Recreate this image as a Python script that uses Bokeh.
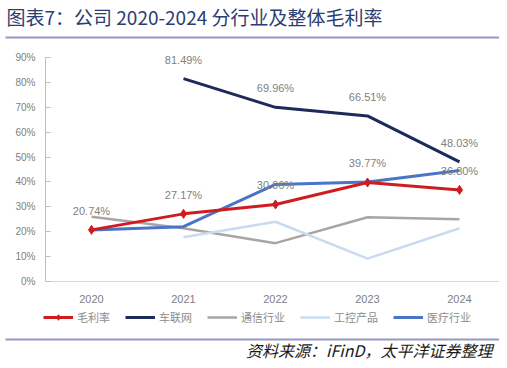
from bokeh.plotting import figure
from bokeh.layouts import column
from bokeh.models import (ColumnDataSource, Range1d, NumeralTickFormatter, FixedTicker,
                          Legend, LegendItem, Label, LabelSet, BoxAnnotation)
from bokeh.core.properties import value
from bokeh.embed import file_html
from bokeh.resources import INLINE

nan = float("nan")

# ---- data (percent) ----
years = [2020, 2021, 2022, 2023, 2024]
gross_margin = [20.74, 27.17, 30.96, 39.77, 36.80]     # 毛利率
iov = [nan, 81.49, 69.96, 66.51, 48.03]                # 车联网
telecom = [26.0, 21.4, 15.4, 25.8, 25.0]               # 通信行业
industrial = [nan, 17.8, 24.0, 9.2, 21.4]              # 工控产品
medical = [20.7, 22.0, 39.0, 40.0, 44.6]               # 医疗行业

series_names = ["毛利率", "车联网", "通信行业", "工控产品", "医疗行业"]
series_colors = ["#d01c1f", "#1c2a5c", "#a6a6a6", "#c9dbef", "#4a74c6"]
series_widths = [3, 3, 2.5, 2.5, 3]
y_tick_values = [0, 10, 20, 30, 40, 50, 60, 70, 80, 90]

title_text = "图表7：公司 2020-2024 分行业及整体毛利率"
source_text = "资料来源：iFinD，太平洋证券整理"

CJK = "Noto Sans CJK SC"
LAT = "Liberation Sans"
SEP = "#9797c6"

W = 499
H_HEAD, H_MAIN, H_FOOT = 40, 265, 55


def bare(h):
    f = figure(width=W, height=h, x_range=Range1d(0, W), y_range=Range1d(h, 0),
               x_axis_type=None, y_axis_type=None, output_backend="svg",
               toolbar_location=None, min_border=0, title=None, frame_align=False)
    f.outline_line_color = None
    f.grid.visible = False
    return f


# ---------------- header ----------------
head = bare(H_HEAD)
head.add_layout(Label(x=6, y=16, text=title_text, text_font=CJK, text_font_size="19px",
                      text_color="#2b3d72", text_baseline="middle", text_align="left"))
head.add_layout(BoxAnnotation(left=5, right=W, top=36, bottom=38,
                              fill_color=SEP, fill_alpha=1, line_color=None))

# ---------------- main chart ----------------
FL, FT, FB = 45, 5, 24
p = figure(width=W, height=H_MAIN, x_range=Range1d(2019.5, 2024.5 - 6 / 92),
           y_range=Range1d(0, 0.948), output_backend="svg", toolbar_location=None, title=None,
           min_border_left=FL, min_border_right=0, min_border_top=FT, min_border_bottom=FB,
           frame_align=False)
p.outline_line_color = None
p.xgrid.grid_line_color = None
p.ygrid.grid_line_color = None

p.yaxis.ticker = FixedTicker(ticks=[v / 100 for v in y_tick_values])
p.yaxis.bounds = (0, y_tick_values[-1] / 100)
p.yaxis.formatter = NumeralTickFormatter(format="0%")
p.yaxis.axis_line_color = "#bfbfbf"
p.yaxis.major_tick_line_color = "#bfbfbf"
p.yaxis.major_tick_in = 5
p.yaxis.major_tick_out = 0
p.yaxis.minor_tick_line_color = None
p.yaxis.major_label_text_font = LAT
p.yaxis.major_label_text_font_size = "10px"
p.yaxis.major_label_text_color = "#808080"
p.yaxis.major_label_standoff = 10

p.xaxis.ticker = FixedTicker(ticks=years)
p.xaxis.axis_line_color = "#d9d9d9"
p.xaxis.major_tick_line_color = None
p.xaxis.minor_tick_line_color = None
p.xaxis.major_label_text_font = LAT
p.xaxis.major_label_text_font_size = "11px"
p.xaxis.major_label_text_color = "#808080"
p.xaxis.major_label_standoff = 7


def frac(vals):
    return [v / 100 for v in vals]


def labels(vals):
    return ["" if v != v else f"{v:.2f}%" for v in vals]


src = ColumnDataSource(dict(
    x=years,
    gross=frac(gross_margin), iov=frac(iov), telecom=frac(telecom),
    industrial=frac(industrial), medical=frac(medical),
    gross_lbl=labels(gross_margin), iov_lbl=labels(iov),
))

cols = ["gross", "iov", "telecom", "industrial", "medical"]
draw_order = [2, 3, 1, 4, 0]
for i in draw_order:
    p.line("x", cols[i], source=src, line_color=series_colors[i], line_width=series_widths[i])
p.scatter("x", "gross", source=src, marker="diamond", size=9,
          fill_color=series_colors[0], line_color=series_colors[0])

for col, ys in [("gross_lbl", "gross"), ("iov_lbl", "iov")]:
    p.add_layout(LabelSet(x="x", y=ys, text=col, source=src, y_offset=19, text_align="center",
                          text_baseline="middle", text_font=value(LAT), text_font_size="11px",
                          text_color="#7f7f7f"))

# ---------------- footer (legend, separator, source) ----------------
foot = bare(H_FOOT)
legend_src = ColumnDataSource(dict(x=[nan], y=[nan]))
items = []
for i, name in enumerate(series_names):
    rs = [foot.line("x", "y", source=legend_src, line_color=series_colors[i],
                    line_width=series_widths[i])]
    if i == 0:
        rs.append(foot.scatter("x", "y", source=legend_src, marker="diamond", size=9,
                               fill_color=series_colors[0], line_color=series_colors[0]))
    items.append(LegendItem(label=name, renderers=rs, index=0))

legend = Legend(items=items, orientation="horizontal", location=(43, H_FOOT - 13 - 7))
legend.label_text_font = CJK
legend.label_text_font_size = "11px"
legend.label_text_color = "#8c8c8c"
legend.glyph_width = 30
legend.glyph_height = 14
legend.label_height = 14
legend.label_standoff = 4
legend.spacing = 15
legend.padding = 0
legend.margin = 0
legend.border_line_color = None
legend.background_fill_alpha = 0
foot.add_layout(legend, "center")

foot.add_layout(BoxAnnotation(left=5, right=W, top=33, bottom=35,
                              fill_color=SEP, fill_alpha=1, line_color=None))
foot.add_layout(Label(x=492, y=44, text=source_text, text_font=CJK, text_font_size="16px",
                      text_font_style="italic", text_color="#1a1a1a",
                      text_baseline="middle", text_align="right"))

layout = column(head, p, foot, spacing=0)
open("out.html", "w").write(file_html(layout, INLINE))
